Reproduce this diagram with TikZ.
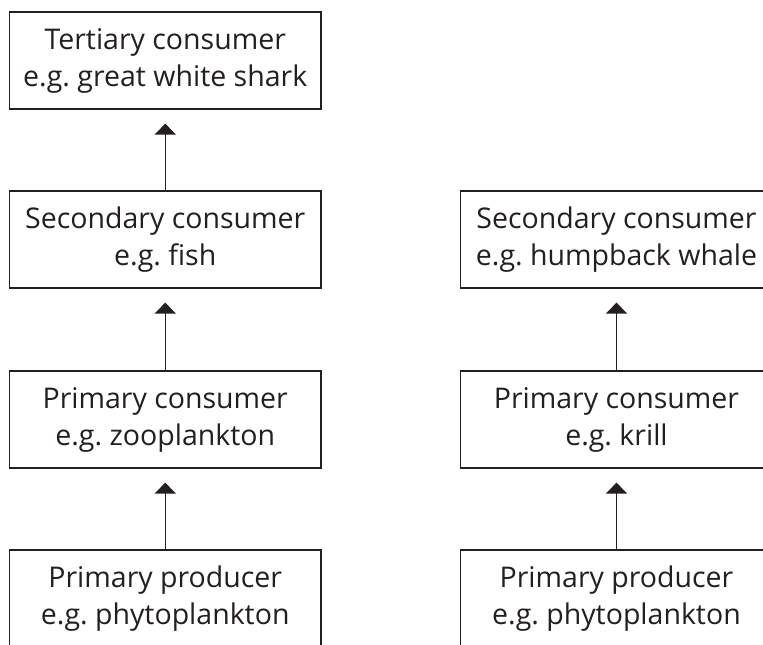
\documentclass[tikz,border=0pt]{standalone}
\usepackage{fontspec}
\setmainfont{Open Sans}
\usetikzlibrary{arrows.meta}
\definecolor{ink}{HTML}{231F20}
\begin{document}
\begin{tikzpicture}[x=1pt,y=-1pt,
  box/.style={draw=ink,line width=1.2pt,minimum width=311.5pt,minimum height=97pt,
    inner sep=0pt,align=center,text=ink,
    font=\fontsize{28.5}{37}\selectfont},
  arr/.style={draw=ink,line width=1.5pt,shorten >=14pt,
    -{Triangle[width=21pt,length=11pt]}}]
\useasboundingbox (0,0) rectangle (763,645);
\clip (0,0) rectangle (763,645);
\node[box] (t3) at (165.25,60.5) {Tertiary consumer\\e.g.\ great white shark};
\node[box] (s2) at (165.25,239.5) {Secondary consumer\\e.g.\ fish};
\node[box] (p1) at (165.25,419.5) {Primary consumer\\e.g.\ zooplankton};
\node[box] (pp) at (165.25,598.5) {Primary producer\\e.g.\ phytoplankton};
\node[box] (rs2) at (616.5,239.5) {Secondary consumer\\e.g.\ humpback whale};
\node[box] (rp1) at (616.5,419.5) {Primary consumer\\e.g.\ krill};
\node[box] (rpp) at (616.5,598.5) {Primary producer\\e.g.\ phytoplankton};
\draw[arr] (s2.north) -- (t3.south);
\draw[arr] (p1.north) -- (s2.south);
\draw[arr] (pp.north) -- (p1.south);
\draw[arr] (rp1.north) -- (rs2.south);
\draw[arr] (rpp.north) -- (rp1.south);
\end{tikzpicture}
\end{document}
